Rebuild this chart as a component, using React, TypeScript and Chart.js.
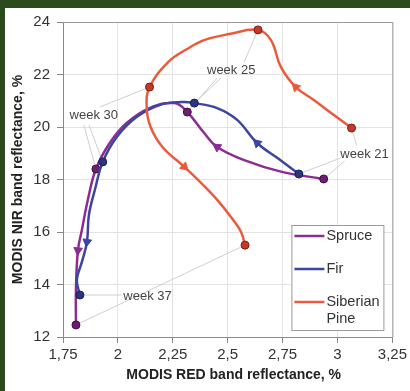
import { useEffect, useRef } from 'react';
import { Chart, registerables } from 'chart.js';

Chart.register(...registerables);

const FONT = '"Liberation Sans", Arial, Helvetica, sans-serif';

// Axis tick labels (decimal comma)
const xTickLabels = ['1,75', '2', '2,25', '2,5', '2,75', '3', '3,25'];

// Spruce trajectory, week 21 -> week 37 (RED %, NIR %)
const spruceRed = [2.937, 2.747, 2.575, 2.452, 2.393, 2.316, 2.257, 2.144, 2.040, 1.963, 1.900, 1.863, 1.836, 1.818, 1.809, 1.809];
const spruceNir = [18.02, 18.29, 18.74, 19.24, 19.77, 20.57, 20.91, 20.72, 20.15, 19.39, 18.40, 17.22, 16.08, 15.30, 13.79, 12.46];
const spruceWeekIdx = [0, 5, 10, 15];
const spruceArrowIdx = [3, 13];

// Fir trajectory
const firRed = [2.824, 2.733, 2.634, 2.543, 2.452, 2.348, 2.294, 2.190, 2.085, 1.995, 1.931, 1.895, 1.868, 1.859, 1.836, 1.813, 1.827];
const firNir = [18.21, 18.78, 19.39, 20.27, 20.72, 20.91, 20.95, 20.84, 20.38, 19.62, 18.67, 17.60, 16.65, 15.62, 14.86, 14.17, 13.60];
const firWeekIdx = [0, 5, 10, 16];
const firArrowIdx = [2, 13];

// Siberian pine trajectory
const pineRed = [3.064, 2.996, 2.892, 2.810, 2.742, 2.697, 2.638, 2.507, 2.393, 2.315, 2.230, 2.144, 2.131, 2.149, 2.203, 2.303, 2.393, 2.461, 2.525, 2.561, 2.579];
const pineNir = [19.96, 20.38, 21.03, 21.52, 22.29, 23.31, 23.70, 23.54, 23.31, 22.97, 22.48, 21.52, 20.76, 20.00, 19.24, 18.48, 17.75, 17.14, 16.46, 16.00, 15.50];
const pineWeekIdx = [0, 6, 11, 20];
const pineArrowIdx = [3, 15];

const seriesNames = ['Spruce', 'Fir', 'Siberian Pine'];

type Series = {
  name: string;
  xs: number[];
  ys: number[];
  weekIdx: number[];
  arrowIdx: number[];
  line: string;
  markFill: string;
  markEdge: string;
  order: number;
};

const series: Series[] = [
  { name: seriesNames[0], xs: spruceRed, ys: spruceNir, weekIdx: spruceWeekIdx, arrowIdx: spruceArrowIdx, line: '#8b2c93', markFill: '#6b1f6e', markEdge: '#3e0f42', order: 2 },
  { name: seriesNames[1], xs: firRed, ys: firNir, weekIdx: firWeekIdx, arrowIdx: firArrowIdx, line: '#3c469e', markFill: '#2c3580', markEdge: '#17204f', order: 1 },
  { name: seriesNames[2], xs: pineRed, ys: pineNir, weekIdx: pineWeekIdx, arrowIdx: pineArrowIdx, line: '#ec5a3c', markFill: '#c23a2a', markEdge: '#7d1d14', order: 0 },
];

// Week callouts: label anchor and leader lines (endpoints are either
// a data coordinate or a reference to a series' week marker)
type End = [number, number] | { s: number; m: number };
const callouts: { text: string; at: [number, number]; leaders: [End, End][] }[] = [
  {
    text: 'week 30',
    at: [1.89, 20.46],
    leaders: [
      [[1.845, 20.08], { s: 0, m: 2 }],
      [[1.868, 20.08], { s: 1, m: 2 }],
      [[1.918, 20.76], { s: 2, m: 2 }],
    ],
  },
  {
    text: 'week 25',
    at: [2.516, 22.17],
    leaders: [
      [[2.575, 22.48], { s: 2, m: 1 }],
      [[2.47, 21.87], { s: 1, m: 1 }],
      [[2.452, 21.87], { s: 0, m: 1 }],
    ],
  },
  {
    text: 'week 21',
    at: [3.123, 18.97],
    leaders: [
      [[3.087, 19.31], { s: 2, m: 0 }],
      [[3.014, 18.82], { s: 1, m: 0 }],
      [[3.032, 18.7], { s: 0, m: 0 }],
    ],
  },
  {
    text: 'week 37',
    at: [2.135, 13.56],
    leaders: [
      [[2.017, 13.6], { s: 1, m: 3 }],
      [{ s: 0, m: 3 }, { s: 2, m: 3 }],
    ],
  },
];

function arrowAngle(chart: any, xs: number[], ys: number[], i: number) {
  const sx = chart.scales.x;
  const sy = chart.scales.y;
  if (!sx || !sy) return 0;
  const a = Math.max(0, i - 1);
  const b = Math.min(xs.length - 1, i + 1);
  const dx = sx.getPixelForValue(xs[b]) - sx.getPixelForValue(xs[a]);
  const dy = sy.getPixelForValue(ys[b]) - sy.getPixelForValue(ys[a]);
  return (Math.atan2(dx, -dy) * 180) / Math.PI;
}

const framePlugin = {
  id: 'frame',
  beforeDraw(chart: any) {
    const { ctx, width, height } = chart;
    ctx.save();
    ctx.fillStyle = '#ffffff';
    ctx.fillRect(0, 0, width, height);
    ctx.fillStyle = '#2d4a1f';
    ctx.fillRect(0, 0, width, 8);
    ctx.fillRect(0, 0, 5, height);
    ctx.restore();
  },
};

function endPixel(chart: any, e: End): [number, number] {
  const sx = chart.scales.x;
  const sy = chart.scales.y;
  if (Array.isArray(e)) return [sx.getPixelForValue(e[0]), sy.getPixelForValue(e[1])];
  const s = series[e.s];
  const i = s.weekIdx[e.m];
  return [sx.getPixelForValue(s.xs[i]), sy.getPixelForValue(s.ys[i])];
}

const calloutPlugin = {
  id: 'callouts',
  beforeDatasetsDraw(chart: any) {
    const { ctx, chartArea } = chart;
    ctx.save();
    // outer plot border (top and right)
    ctx.strokeStyle = '#9a9a9a';
    ctx.lineWidth = 1;
    ctx.beginPath();
    ctx.moveTo(chartArea.left, chartArea.top + 0.5);
    ctx.lineTo(chartArea.right + 0.5, chartArea.top + 0.5);
    ctx.lineTo(chartArea.right + 0.5, chartArea.bottom);
    ctx.stroke();
    // leader lines
    ctx.strokeStyle = '#cfcfcf';
    ctx.lineWidth = 1;
    for (const c of callouts) {
      for (const [a, b] of c.leaders) {
        const p = endPixel(chart, a);
        const q = endPixel(chart, b);
        ctx.beginPath();
        ctx.moveTo(p[0], p[1]);
        ctx.lineTo(q[0], q[1]);
        ctx.stroke();
      }
    }
    ctx.restore();
  },
  afterDraw(chart: any) {
    const { ctx, chartArea } = chart;
    const sx = chart.scales.x;
    const sy = chart.scales.y;
    ctx.save();
    ctx.font = `13px ${FONT}`;
    ctx.fillStyle = '#444';
    ctx.textAlign = 'center';
    ctx.textBaseline = 'middle';
    for (const c of callouts) {
      ctx.fillText(c.text, sx.getPixelForValue(c.at[0]), sy.getPixelForValue(c.at[1]));
    }

    // x-axis title, drawn slightly right of the plot centre
    ctx.font = `bold 14px ${FONT}`;
    ctx.fillStyle = '#222';
    ctx.fillText('MODIS RED band reflectance, %', (chartArea.left + chartArea.right) / 2 + 6, chart.height - 16);

    // legend box
    const left = chartArea.right - 101;
    const right = chartArea.right - 9;
    const top = chartArea.bottom - 112;
    const bottom = chartArea.bottom - 7;
    ctx.fillStyle = '#ffffff';
    ctx.fillRect(left, top, right - left, bottom - top);
    ctx.strokeStyle = '#9a9a9a';
    ctx.lineWidth = 1;
    ctx.strokeRect(left + 0.5, top + 0.5, right - left, bottom - top);
    ctx.font = `14.5px ${FONT}`;
    ctx.textAlign = 'left';
    ctx.textBaseline = 'middle';
    const rows = [top + 11, top + 44, top + 77];
    series.forEach((s, k) => {
      const y = rows[k];
      ctx.strokeStyle = s.line;
      ctx.lineWidth = 2.5;
      ctx.beginPath();
      ctx.moveTo(left + 3, y);
      ctx.lineTo(left + 33, y);
      ctx.stroke();
      ctx.fillStyle = '#333';
      const words = s.name.split(' ');
      words.forEach((w, j) => ctx.fillText(w, left + 35, y + j * 17));
    });
    ctx.restore();
  },
};

export default function App() {
  const ref = useRef<HTMLCanvasElement | null>(null);

  useEffect(() => {
    if (!ref.current) return;
    const datasets = series.map((s) => ({
      label: s.name,
      data: s.xs.map((x, i) => ({ x, y: s.ys[i] })),
      showLine: true,
      tension: 0.4,
      borderColor: s.line,
      borderWidth: 2.5,
      order: s.order,
      pointStyle: (c: any) => (s.arrowIdx.includes(c.dataIndex) ? 'triangle' : 'circle'),
      pointRadius: (c: any) =>
        s.weekIdx.includes(c.dataIndex) ? 4 : s.arrowIdx.includes(c.dataIndex) ? 5 : 0,
      pointRotation: (c: any) =>
        s.arrowIdx.includes(c.dataIndex) ? arrowAngle(c.chart, s.xs, s.ys, c.dataIndex) : 0,
      pointBackgroundColor: (c: any) => (s.arrowIdx.includes(c.dataIndex) ? s.line : s.markFill),
      pointBorderColor: (c: any) => (s.arrowIdx.includes(c.dataIndex) ? s.line : s.markEdge),
      pointBorderWidth: 1,
    }));

    const chart = new Chart(ref.current, {
      type: 'scatter',
      data: { datasets },
      plugins: [framePlugin, calloutPlugin],
      options: {
        responsive: false,
        devicePixelRatio: 1,
        animation: false,
        events: [],
        layout: { padding: { top: 22, right: 16, left: 0, bottom: 0 } },
        plugins: { legend: { display: false }, tooltip: { enabled: false } },
        scales: {
          x: {
            type: 'linear',
            min: 1.75,
            max: 3.25,
            ticks: {
              stepSize: 0.25,
              padding: 3,
              color: '#333',
              font: { family: FONT, size: 15 },
              callback: (_v: any, i: number) => xTickLabels[i] ?? '',
            },
            grid: { color: '#e3e3e3', tickColor: '#888', tickLength: 6 },
            border: { color: '#888', width: 1 },
            title: { display: false },
            afterFit: (s: any) => {
              s.height = 54;
            },
          },
          y: {
            type: 'linear',
            min: 12,
            max: 24,
            ticks: {
              stepSize: 2,
              padding: 7,
              color: '#333',
              font: { family: FONT, size: 15 },
            },
            grid: { color: '#e3e3e3', tickColor: '#888', tickLength: 6 },
            border: { color: '#888', width: 1 },
            title: {
              display: true,
              text: 'MODIS NIR band reflectance, %',
              color: '#222',
              font: { family: FONT, size: 14, weight: 'bold' },
              padding: { top: 10, bottom: 0 },
            },
            afterFit: (s: any) => {
              s.width = 63;
            },
          },
        },
      } as any,
    });
    return () => chart.destroy();
  }, []);

  return (
    <div style={{ position: 'fixed', left: 0, top: 0, width: 410, height: 391, overflow: 'hidden' }}>
      <canvas ref={ref} width={410} height={391} style={{ display: 'block', width: 410, height: 391 }} />
    </div>
  );
}
